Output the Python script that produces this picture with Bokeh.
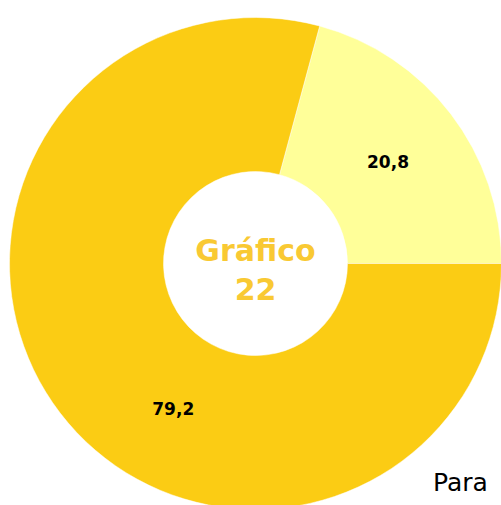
import numpy as np
from bokeh.plotting import figure
from bokeh.models import Range1d
from bokeh.core.properties import value
from bokeh.embed import file_html
from bokeh.resources import INLINE

# data
categories = ["Sí", "No"]
values = [20.8, 79.2]
labels = ["20,8", "79,2"]
colors = ["#FFFF99", "#FBCC14"]
label_angles_deg = [37.5, 240.5]
title_lines = ["Gráfico", "22"]
footer = "Para"

W, H = 501, 505
p = figure(width=W, height=H, output_backend="svg", toolbar_location=None,
           x_range=Range1d(0, W), y_range=Range1d(-H, 0),
           min_border=0)
p.axis.visible = False
p.grid.visible = False
p.outline_line_color = None
p.background_fill_color = "white"

cx, cy = 255, -263
r_out, r_in = 246, 92

vals = np.array(values)
ends = np.cumsum(vals) / vals.sum() * 2 * np.pi
starts = np.concatenate([[0], ends[:-1]])

p.annular_wedge(x=cx, y=cy, inner_radius=r_in, outer_radius=r_out,
                start_angle=list(starts), end_angle=list(ends),
                fill_color=colors, line_color="white", line_width=0.5)

lr = 167
la = np.radians(label_angles_deg)
p.text(x=list(cx + lr * np.cos(la)), y=list(cy + lr * np.sin(la)), text=labels,
       text_font=value("DejaVu Sans"), text_font_style="bold", text_font_size="17px",
       text_color="black", text_align="center", text_baseline="middle")

p.text(x=[cx, cx], y=[cy + 13, cy - 25], text=title_lines,
       text_font=value("DejaVu Sans"), text_font_style="bold", text_font_size="30px",
       text_color="#F9C933", text_align="center", text_baseline="middle")

p.text(x=[460], y=[-482], text=[footer],
       text_font=value("DejaVu Sans"), text_font_size="25px",
       text_color="black", text_align="center", text_baseline="middle")

open("out.html", "w").write(file_html(p, INLINE))
